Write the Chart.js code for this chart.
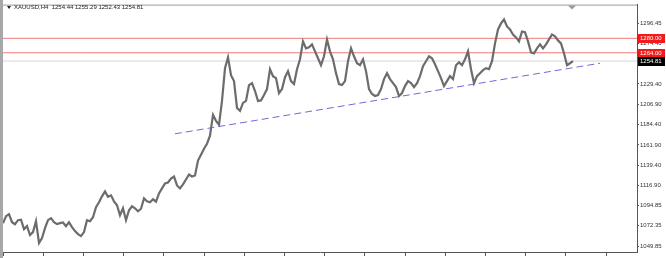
<!DOCTYPE html>
<html>
<head>
<meta charset="utf-8">
<script src="https://cdn.jsdelivr.net/npm/chart.js@4.4.1/dist/chart.umd.min.js"></script>
<style>
    html, body { margin: 0; padding: 0; background: #fff; }
    #wrap { width: 666px; height: 258px; position: relative; }
</style>
</head>
<body>
<div id="wrap"><canvas id="chart"></canvas></div>
<script>
const symbol = 'XAUUSD,H4';
const lastBar = ['1254.44', '1255.29', '1252.43', '1254.81'];

// closing prices, one every few H4 bars
const closes = [
    1075.2, 1082.9, 1085.1, 1076.3, 1074.1, 1078.5, 1079.0, 1068.6, 1071.9, 1062.0,
    1065.3, 1077.4, 1053.2, 1058.7, 1069.7, 1078.5, 1080.7, 1076.3, 1074.1, 1075.2,
    1076.0, 1071.9, 1076.3, 1070.8, 1066.4, 1063.1, 1060.9, 1065.3, 1078.5, 1077.4,
    1081.8, 1092.8, 1098.3, 1104.9, 1110.4, 1104.5, 1106.0, 1099.4, 1095.0, 1084.0,
    1091.7, 1078.5, 1089.5, 1093.9, 1091.7, 1088.4, 1091.2, 1102.7, 1099.4, 1098.3,
    1101.6, 1099.0, 1108.2, 1113.7, 1119.2, 1120.3, 1124.7, 1126.9, 1117.0, 1113.7,
    1118.1, 1123.6, 1129.1, 1126.9, 1128.0, 1144.5, 1151.1, 1157.7, 1163.2, 1172.1,
    1195.2, 1188.6, 1184.2, 1210.6, 1246.9, 1259.0, 1239.2, 1232.6, 1202.9, 1199.6,
    1208.4, 1210.6, 1228.2, 1230.4, 1221.6, 1210.6, 1211.2, 1217.2, 1223.8, 1245.8,
    1238.1, 1235.9, 1219.4, 1223.8, 1237.0, 1243.6, 1232.6, 1229.3, 1245.8, 1256.8,
    1276.6, 1268.9, 1270.0, 1273.3, 1265.6, 1257.9, 1250.2, 1260.1, 1278.8, 1265.6,
    1256.8, 1241.4, 1229.3, 1228.2, 1232.6, 1254.6, 1268.9, 1260.1, 1252.4, 1250.2,
    1256.8, 1243.6, 1223.8, 1218.3, 1216.1, 1217.2, 1223.8, 1234.8, 1241.4, 1234.8,
    1230.4, 1226.0, 1216.1, 1219.4, 1227.1, 1232.6, 1230.4, 1226.0, 1230.4, 1238.1,
    1249.1, 1254.6, 1260.1, 1257.9, 1251.3, 1243.6, 1235.9, 1227.1, 1232.6, 1238.1,
    1234.8, 1250.2, 1253.5, 1250.2, 1256.8, 1265.6, 1245.8, 1230.4, 1238.1, 1241.4,
    1244.7, 1246.9, 1245.8, 1254.6, 1274.4, 1289.8, 1296.5, 1300.9, 1293.2, 1289.8,
    1284.3, 1281.0, 1276.6, 1287.6, 1286.9, 1276.6, 1264.5, 1263.4, 1268.9, 1273.3,
    1268.9, 1273.3, 1278.8, 1284.3, 1282.1, 1277.7, 1274.4, 1263.4, 1250.2, 1252.4,
    1254.81
];

const yTicks = [1049.85, 1072.35, 1094.85, 1116.90, 1139.40, 1161.90, 1184.40, 1206.90, 1229.40, 1251.90, 1274.40, 1296.45];
const levels = [1280.00, 1264.00];
const bid = 1254.81;
const trendBars = [57.3, 199];
const trendPrices = [1174.2, 1252.4];

const X_MAX = 211.33;
const Y_MIN = 1043.24;
const Y_MAX = 1317.37;
const FONT = 'Liberation Sans, Arial, sans-serif';

const priceData = closes.map((v, i) => ({ x: i, y: v }));
const trendData = trendBars.map((b, i) => ({ x: b, y: trendPrices[i] }));

const levelSets = levels.map(v => ({
    data: [{ x: 0, y: v }, { x: X_MAX, y: v }],
    borderColor: '#f07a7a',
    borderWidth: 1,
    pointRadius: 0,
    order: 3
}));

const overlay = {
    id: 'overlay',
    afterDraw(chart) {
        const { ctx, chartArea: a, scales: { y } } = chart;
        ctx.save();

        // frame
        ctx.fillStyle = '#a8a8a8';
        ctx.fillRect(0, 0, 3, 258);
        ctx.strokeStyle = '#9a9a9a';
        ctx.lineWidth = 1;
        ctx.beginPath();
        ctx.moveTo(a.left, a.top + 0.5);
        ctx.lineTo(a.right, a.top + 0.5);
        ctx.stroke();

        // title
        ctx.fillStyle = '#222';
        ctx.font = '6px ' + FONT;
        ctx.textBaseline = 'middle';
        ctx.textAlign = 'left';
        ctx.beginPath();
        ctx.moveTo(7, 6);
        ctx.lineTo(11, 6);
        ctx.lineTo(9, 9);
        ctx.closePath();
        ctx.fill();
        ctx.fillText(symbol + '  ' + lastBar.join(' '), 14, 7.5);

        // shift marker
        ctx.fillStyle = '#9a9a9a';
        ctx.beginPath();
        ctx.moveTo(568, a.top + 1);
        ctx.lineTo(576, a.top + 1);
        ctx.lineTo(572, a.top + 5);
        ctx.closePath();
        ctx.fill();

        // price boxes on the right scale
        const boxes = levels.map(v => [v, '#f21b1b']).concat([[bid, '#000']]);
        boxes.forEach(([v, col]) => {
            const py = Math.round(y.getPixelForValue(v));
            ctx.fillStyle = col;
            ctx.fillRect(a.right + 1, py - 4, 27, 9);
            ctx.fillStyle = '#fff';
            ctx.fillText(v.toFixed(2), a.right + 3, py + 0.5);
        });
        ctx.restore();
    }
};

new Chart(document.getElementById('chart'), {
    type: 'line',
    data: {
        datasets: [
            {
                data: priceData,
                borderColor: '#6c6c6c',
                borderWidth: 2.2,
                pointRadius: 0,
                tension: 0,
                order: 1
            },
            {
                data: trendData,
                borderColor: '#7468d6',
                borderWidth: 1,
                borderDash: [7, 4],
                pointRadius: 0,
                order: 2
            },
            ...levelSets,
            {
                data: [{ x: 0, y: bid }, { x: X_MAX, y: bid }],
                borderColor: '#d6d6d6',
                borderWidth: 1,
                pointRadius: 0,
                order: 4
            }
        ]
    },
    options: {
        responsive: true,
        maintainAspectRatio: false,
        animation: false,
        layout: { padding: { left: 3, top: 3, right: 0, bottom: 0 } },
        plugins: {
            legend: { display: false },
            tooltip: { enabled: false }
        },
        scales: {
            x: {
                type: 'linear',
                min: 0,
                max: X_MAX,
                afterBuildTicks: s => {
                    const t = [];
                    for (let v = 0; v <= X_MAX; v += 13.4) t.push({ value: v });
                    s.ticks = t;
                },
                afterFit: s => { s.height = 6; },
                ticks: { display: false },
                grid: { drawOnChartArea: false, tickLength: 4, color: '#555' },
                border: { color: '#555' }
            },
            y: {
                position: 'right',
                min: Y_MIN,
                max: Y_MAX,
                afterBuildTicks: s => { s.ticks = yTicks.map(v => ({ value: v })); },
                afterFit: s => { s.width = 29; },
                ticks: {
                    font: { family: FONT, size: 6 },
                    color: '#333',
                    padding: 1,
                    callback: v => Number(v).toFixed(2)
                },
                grid: { drawOnChartArea: false, tickLength: 2, color: '#555' },
                border: { color: '#555' }
            }
        }
    },
    plugins: [overlay]
});
</script>
</body>
</html>
